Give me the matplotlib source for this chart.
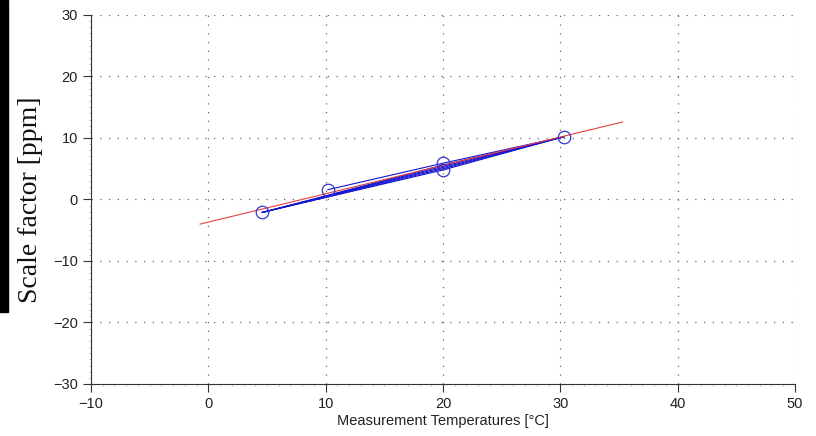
import matplotlib.pyplot as plt
from matplotlib.patches import Rectangle
from matplotlib.ticker import MultipleLocator

# measured points
temps = [4.6, 10.2, 20.0, 20.0, 30.3]
scale = [-2.1, 1.6, 5.9, 4.8, 10.2]

# blue measurement traces (start temp, start value) -> 20 degC value -> 30.3 degC
start_t = [4.6, 4.6, 4.6, 4.6, 4.6, 10.2]
start_v = [-2.1, -2.1, -2.1, -2.1, -2.1, 1.6]
mid_t = [20.0, 20.0, 20.0, 20.0, 20.0, 20.0]
mid_v = [4.8, 5.0, 5.2, 5.4, 5.6, 5.9]
end_t = [30.3, 30.3, 30.3, 30.3, 30.3, 30.3]
end_v = [10.2, 10.2, 10.2, 10.2, 10.2, 10.2]

# linear fit
fit_x = [-0.7, 35.3]
fit_y = [-4.0, 12.6]

plt.rcParams['font.family'] = ['Liberation Sans', 'DejaVu Sans']

fig = plt.figure(figsize=(8.16, 4.36), dpi=100)
ax = fig.add_axes([0.1115, 0.1193, 0.8627, 0.8463])

for i in range(len(start_t)):
    ax.plot([start_t[i], mid_t[i], end_t[i]], [start_v[i], mid_v[i], end_v[i]],
            color='#1515d0', lw=0.8, zorder=2)
ax.plot(fit_x, fit_y, color='#e84040', lw=0.8, zorder=3)
ax.plot(temps, scale, 'o', mfc='none', mec='#3535d0', ms=9, mew=0.9, zorder=4)

ax.set_xlim(-10, 50)
ax.set_ylim(-30, 30)
ax.xaxis.set_major_locator(MultipleLocator(10))
ax.yaxis.set_major_locator(MultipleLocator(10))
ax.xaxis.set_minor_locator(MultipleLocator(1))
ax.yaxis.set_minor_locator(MultipleLocator(1))
ax.grid(True, which='major', linestyle=(0, (1, 6)), color='#666666', lw=0.9)
for s in ['top', 'right']:
    ax.spines[s].set_visible(False)
for s in ['left', 'bottom']:
    ax.spines[s].set_color('#333333')
    ax.spines[s].set_linewidth(0.8)
ax.tick_params(which='major', direction='out', length=6, width=0.8,
               labelsize=10.5, colors='#333333', labelcolor='#222222')
ax.tick_params(which='minor', direction='out', length=1.5, width=0.4, colors='#888888')
ax.set_xlabel('Measurement Temperatures [°C]', fontsize=10.5, color='#222222', labelpad=2)
ax.set_ylabel('Scale factor [ppm]', fontsize=20, family=['Liberation Serif', 'DejaVu Serif'],
              color='#111111', labelpad=7)

# black strip at left edge
fig.patches.append(Rectangle((0, 1 - 312 / 436), 8 / 816, 312 / 436,
                             transform=fig.transFigure, color='black', zorder=0))

fig.savefig('out.png', dpi=100)
